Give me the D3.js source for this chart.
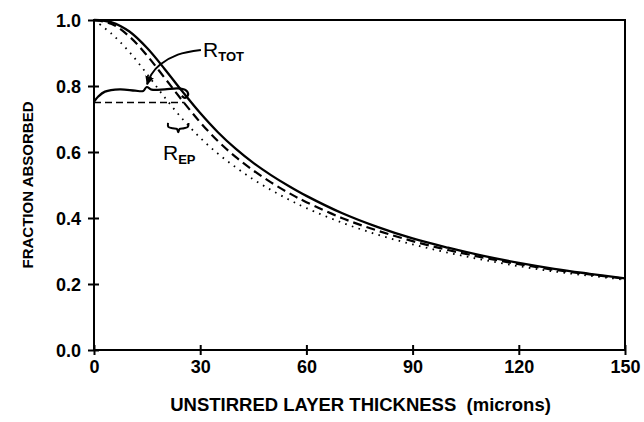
<!DOCTYPE html>
<html><head><meta charset="utf-8">
<script src="https://cdn.jsdelivr.net/npm/d3@7"></script>
<style>body{margin:0;background:#fff}svg{display:block}text{font-family:"Liberation Sans",Arial,sans-serif;fill:#000}</style>
</head><body>
<svg id="c" width="644" height="422"></svg>
<script>
const xs = [0,5,10,15,20,25,30,35,40,45,50,55,60,70,80,90,100,110,120,130,140,150];
const solid  = [1.0,0.993,0.965,0.915,0.851,0.783,0.718,0.66,0.61,0.567,0.53,0.497,0.467,0.415,0.373,0.338,0.31,0.285,0.264,0.246,0.231,0.217];
const dashed = [1.0,0.988,0.95,0.892,0.824,0.755,0.69,0.633,0.585,0.544,0.508,0.476,0.448,0.4,0.362,0.33,0.303,0.28,0.26,0.243,0.229,0.216];
const dotted = [1.0,0.958,0.903,0.836,0.765,0.7,0.643,0.595,0.554,0.517,0.485,0.456,0.43,0.386,0.35,0.32,0.295,0.273,0.254,0.238,0.225,0.213];
const xTicks = [0,30,60,90,120,150];
const yTicks = [0,0.2,0.4,0.6,0.8,1.0];
const epLevel = 0.75, epEnd = 25.6;
// annotation geometry in data units
const rtotBrace = [[0,0.752],[1.2,0.768],[3.1,0.783],[7.3,0.79],[11.6,0.786],[13.9,0.785],[14.9,0.797],[16.3,0.789],[20,0.79],[23.7,0.793],[25.8,0.788],[26.6,0.774],[25.7,0.764],[24.8,0.77]];
const rtotArrow = [[30.2,0.909],[23.7,0.895],[18.7,0.865],[16.2,0.835],[15.0,0.805]];
const repBrace = [[20.9,0.688],[21.0,0.676],[22.2,0.672],[23.4,0.670],[23.8,0.660],[24.2,0.670],[25.4,0.672],[26.5,0.676],[26.7,0.688]];

const W=644,H=422,m={l:94,r:19,t:20,b:72};
const svg=d3.select("#c");
const x=d3.scaleLinear().domain([0,150]).range([m.l,W-m.r]);
const y=d3.scaleLinear().domain([0,1]).range([H-m.b,m.t]);

svg.append("rect").attr("x",x(0)).attr("y",y(1)).attr("width",x(150)-x(0)).attr("height",y(0)-y(1))
  .attr("fill","none").attr("stroke","#000").attr("stroke-width",2);

const ax=svg.append("g").attr("transform",`translate(0,${y(0)})`)
  .call(d3.axisBottom(x).tickValues(xTicks).tickSize(6).tickPadding(6).tickFormat(d3.format("d")));
const ay=svg.append("g").attr("transform",`translate(${x(0)},0)`)
  .call(d3.axisLeft(y).tickValues(yTicks).tickSize(6).tickPadding(6).tickFormat(d3.format(".1f")));
[ax,ay].forEach(g=>{g.select(".domain").remove();g.selectAll("line").attr("stroke","#000").attr("stroke-width",2);
  g.selectAll("text").attr("font-size",18).attr("font-weight","bold").attr("fill","#000");});
ax.selectAll("line").attr("y1",-5).attr("y2",5);
ay.selectAll("line").attr("x1",-6).attr("x2",5);
ay.selectAll("text").attr("dy","0.35em").attr("x",-13);
ax.selectAll("text").attr("y",10);

const line=d3.line().x((d,i)=>x(xs[i])).y(d=>y(d)).curve(d3.curveCatmullRom.alpha(0.5));
svg.append("path").datum(dotted).attr("d",line).attr("fill","none").attr("stroke","#000").attr("stroke-width",1.8).attr("stroke-dasharray","1.6,5.4");
svg.append("path").datum(dashed).attr("d",line).attr("fill","none").attr("stroke","#000").attr("stroke-width",2.2).attr("stroke-dasharray","9,5");
svg.append("path").datum(solid).attr("d",line).attr("fill","none").attr("stroke","#000").attr("stroke-width",2.3);

svg.append("line").attr("x1",x(0)).attr("x2",x(epEnd)).attr("y1",y(epLevel)).attr("y2",y(epLevel))
  .attr("stroke","#000").attr("stroke-width",1.6).attr("stroke-dasharray","7,4");

const pl=d3.line().x(d=>x(d[0])).y(d=>y(d[1])).curve(d3.curveCatmullRom);
svg.append("path").datum(rtotBrace).attr("d",pl).attr("fill","none").attr("stroke","#000").attr("stroke-width",2.2);
svg.append("path").datum(repBrace).attr("d",pl).attr("fill","none").attr("stroke","#000").attr("stroke-width",2);
svg.append("defs").append("marker").attr("id","ah").attr("viewBox","0 0 10 10").attr("refX",9).attr("refY",5)
  .attr("markerWidth",9).attr("markerHeight",9).attr("markerUnits","userSpaceOnUse").attr("orient","auto")
  .append("path").attr("d","M0,0L10,5L0,10z").attr("fill","#000");
svg.append("path").datum(rtotArrow).attr("d",pl).attr("fill","none").attr("stroke","#000").attr("stroke-width",2).attr("marker-end","url(#ah)");

function lab(xd,yd,main,sub){
  const t=svg.append("text").attr("x",x(xd)).attr("y",y(yd)).attr("font-size",21);
  t.append("tspan").text(main);
  t.append("tspan").attr("font-size",13).attr("font-weight","bold").attr("dy",4).text(sub);
}
lab(30.8,0.888,"R","TOT");
lab(19.5,0.576,"R","EP");

svg.append("text").attr("x",(x(0)+x(150))/2+1).attr("y",411).attr("text-anchor","middle").attr("font-size",18.5).attr("font-weight","bold")
  .attr("xml:space","preserve").text("UNSTIRRED LAYER THICKNESS  (microns)");
svg.append("text").attr("transform",`translate(33,${(y(0)+y(1))/2}) rotate(-90)`).attr("text-anchor","middle").attr("font-size",15).attr("font-weight","bold")
  .text("FRACTION ABSORBED");
</script></body></html>
